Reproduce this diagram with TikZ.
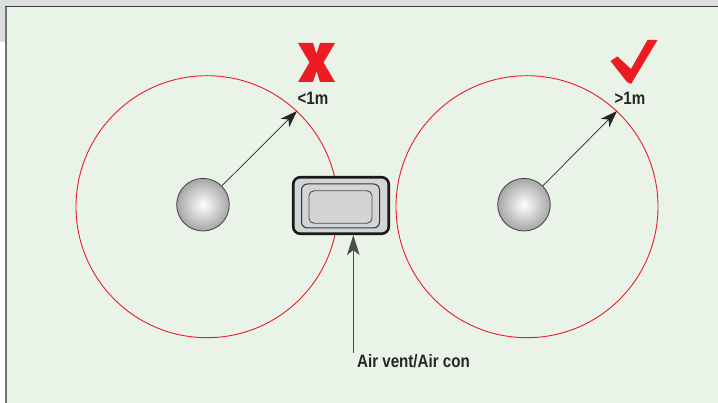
\documentclass[tikz,border=0pt]{standalone}
\usepackage{fontspec}
\setmainfont{Liberation Sans}
\usetikzlibrary{arrows.meta}
\definecolor{panel}{HTML}{E9F3E7}
\definecolor{topgrey}{HTML}{DCDDDF}
\definecolor{redc}{HTML}{ED1C24}
\definecolor{ventfill}{HTML}{D3D4D6}
\tikzset{
  ring/.style={draw=redc, line width=0.9pt},
  ball/.style={circle, draw=black!75, line width=0.8pt, minimum size=52.6pt, inner sep=0pt, inner color=white, outer color=black!35},
  ptr/.style={draw=black!85, line width=0.7pt, -{Stealth[length=17pt,width=12pt,inset=5pt]}},
  lbl/.style={font=\bfseries\fontsize{18}{18}\selectfont, xscale=0.84, inner sep=0pt, text=black!85},
  redmark/.style={fill=redc, draw=none}
}
\begin{document}
\begin{tikzpicture}[x=1pt,y=-1pt]
\useasboundingbox (0,0) rectangle (718,403);
\fill[white] (0,0) rectangle (718,403);
\fill[topgrey] (0,0) rectangle (718,6.5);
\fill[topgrey] (0,0) rectangle (6,42);
\fill[panel] (6,6.5) rectangle (718,403);
\draw[black!55, line width=2pt] (6,403) -- (6,6.5);
\draw[black!75, line width=1.6pt] (5,6.5) -- (718,6.5);
% circles
\draw[ring] (207,206.7) circle[radius=131];
\draw[ring] (527,206.7) circle[radius=131];
% balls
\node[ball] (b1) at (203,204.7) {};
\node[ball] (b2) at (524,204.7) {};
\coordinate (t1) at (297,111);
\coordinate (t2) at (617,111);
\draw[ptr] (b1.45) -- (t1);
\draw[ptr] (b2.45) -- (t2);
% labels
\node[lbl] (l1) at (313,98.5) {<1m};
\node[lbl] (l2) at (630,98.5) {>1m};
% X mark
\fill[redmark] (298,43) -- (313,43) -- (316.5,54) -- (320,43) -- (335,43) -- (323.5,62.5) -- (335,82) -- (320,82) -- (316.5,71) -- (313,82) -- (298,82) -- (309.5,62.5) -- cycle;
% check mark
\fill[redmark] (610.5,61) -- (617.5,56.5) -- (631,69) -- (647.5,40) -- (657.5,40) -- (631,84) -- (627,82) -- cycle;
% vent
\node[draw=black!90, line width=2.6pt, fill=ventfill, rounded corners=7pt, minimum width=95.5pt, minimum height=56.5pt, inner sep=0pt] (vent) at (341,205.5) {};
\node[draw=black!80, line width=1pt, fill=ventfill, rounded corners=6pt, minimum width=78pt, minimum height=44pt, inner sep=0pt] (vent2) at (340.5,206) {};
\node[draw=black!70, line width=0.9pt, fill=ventfill, rounded corners=5pt, minimum width=63pt, minimum height=32.5pt, inner sep=0pt] (vent3) at (340.5,207) {};
\coordinate (vtail) at (353.3,353);
\draw[draw=black!70, line width=0.9pt, -{Stealth[length=20pt,width=12.5pt,inset=5pt]}] (vtail) -- (vtail |- vent.south);
\node[lbl, anchor=west] (vl) at (357,361.5) {Air vent/Air con};
\end{tikzpicture}
\end{document}
